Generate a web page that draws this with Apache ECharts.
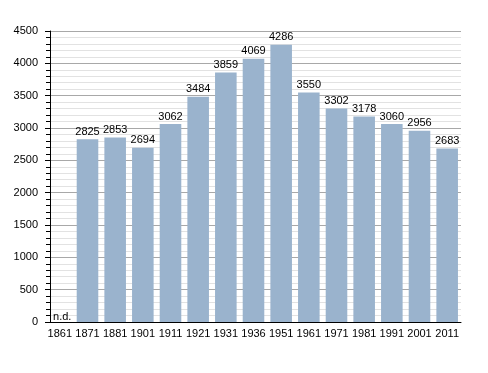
<!DOCTYPE html>
<html>
<head>
<meta charset="utf-8">
<script src="https://cdn.jsdelivr.net/npm/echarts@6/dist/echarts.min.js"></script>
<style>html,body{margin:0;padding:0;background:#fff}#c{width:488px;height:373px}</style>
</head>
<body>
<div id="c"></div>
<script>
var categories = ['1861','1871','1881','1901','1911','1921','1931','1936','1951','1961','1971','1981','1991','2001','2011'];
var population = [null,2825,2853,2694,3062,3484,3859,4069,4286,3550,3302,3178,3060,2956,2683];
var missingLabel = 'n.d.';

var chart = echarts.init(document.getElementById('c'));
var barData = population.map(function(v){
  if (v === null) {
    return {value: 0, label: {show: true, formatter: missingLabel, position: 'insideBottomLeft', offset: [2, 2]}};
  }
  return v;
});
chart.setOption({
  animation: false,
  textStyle: {fontFamily: 'Liberation Sans'},
  grid: {left: 46, right: 27, top: 31, bottom: 51},
  xAxis: {
    type: 'category',
    data: categories,
    axisLine: {lineStyle: {color: '#000', width: 1}},
    axisTick: {show: false},
    axisLabel: {color: '#000', fontSize: 11, margin: 6, interval: 0}
  },
  yAxis: {
    type: 'value',
    min: 0, max: 4500, interval: 500,
    offset: -4,
    axisLine: {show: true, lineStyle: {color: '#000'}},
    axisTick: {show: true, length: 5, lineStyle: {color: '#000'}},
    minorTick: {show: true, splitNumber: 5, length: 4, lineStyle: {color: '#000'}},
    axisLabel: {color: '#000', fontSize: 11, margin: 12, formatter: function(v){ return String(v); }},
    splitLine: {show: true, lineStyle: {color: '#a8a8a8', width: 1}},
    minorSplitLine: {show: true, lineStyle: {color: '#e2e2e2', width: 1}}
  },
  series: [{
    type: 'bar',
    data: barData,
    barWidth: '78%',
    itemStyle: {color: '#9ab3cd'},
    label: {show: true, position: 'top', color: '#000', fontSize: 11, distance: 2}
  }]
});
</script>
</body>
</html>
